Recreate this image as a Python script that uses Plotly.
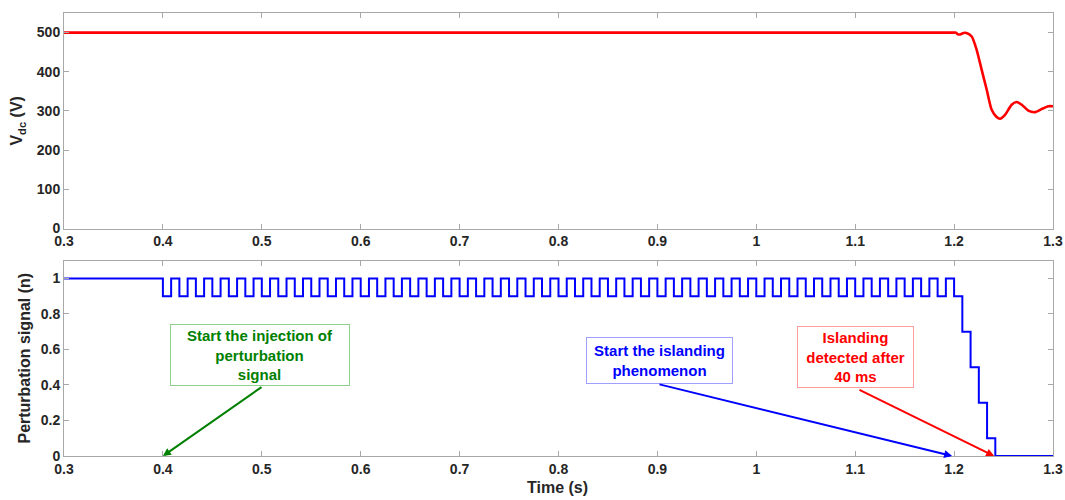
import plotly.graph_objects as go
from plotly.subplots import make_subplots

# DC-link voltage response (s, V)
vdc_time = [0.3, 1.2, 1.2019, 1.2035, 1.2055, 1.2077, 1.2095, 1.2125, 1.2178, 1.2228,
            1.2279, 1.2330, 1.2380, 1.2430, 1.2464, 1.2515, 1.2582, 1.2633, 1.2684,
            1.2750, 1.2818, 1.2886, 1.2953, 1.3]
vdc_value = [500, 500, 500, 496, 495, 497, 499, 499, 490, 456,
             405, 354, 303, 284.5, 280, 290, 316, 323, 316,
             301, 297, 305, 312, 312]

# Perturbation signal: constant before injection, 60 Hz square wave between
# 0.9 and 1.0, then stepped down to zero once islanding is detected
pert_initial = 1.0
pert_start = 0.4
pert_half_period = 1.0 / 120.0
pert_levels = [0.9, 1.0] * 48 + [0.9, 0.7, 0.5, 0.3, 0.1, 0.0]
t_end = 1.3

x_ticks = [0.3, 0.4, 0.5, 0.6, 0.7, 0.8, 0.9, 1.0, 1.1, 1.2, 1.3]
x_tick_text = ["0.3", "0.4", "0.5", "0.6", "0.7", "0.8", "0.9", "1", "1.1", "1.2", "1.3"]
vdc_ticks = [0, 100, 200, 300, 400, 500]
pert_ticks = [0, 0.2, 0.4, 0.6, 0.8, 1.0]
pert_tick_text = ["0", "0.2", "0.4", "0.6", "0.8", "1"]

# step-trace coordinates for the perturbation signal
pert_t = [0.3]
pert_v = [pert_initial]
for k, lvl in enumerate(pert_levels):
    pert_t.append(pert_start + k * pert_half_period)
    pert_v.append(lvl)
pert_t.append(t_end)
pert_v.append(pert_levels[-1])

FONT = "Liberation Sans, Arial, Helvetica, sans-serif"
AX_COL = "#a8a8a8"
TXT_COL = "#262626"

fig = make_subplots(rows=2, cols=1, shared_xaxes=False, vertical_spacing=0.0)

fig.add_trace(go.Scatter(x=vdc_time, y=vdc_value, mode="lines",
                         line=dict(color="#ff0000", width=2.6, shape="spline", smoothing=0.7),
                         showlegend=False), row=1, col=1)
fig.add_trace(go.Scatter(x=pert_t, y=pert_v, mode="lines",
                         line=dict(color="#0000ff", width=2, shape="hv"),
                         showlegend=False), row=2, col=1)

axis_common = dict(showline=True, linecolor=AX_COL, linewidth=1, mirror="allticks",
                   ticks="inside", ticklen=5, tickcolor=AX_COL, showgrid=False,
                   zeroline=False, automargin=False,
                   tickfont=dict(family=FONT, size=14, color=TXT_COL, weight="bold"))

fig.update_xaxes(range=[0.3, 1.3], tickvals=x_ticks, ticktext=x_tick_text, **axis_common)
fig.update_yaxes(**axis_common)
fig.update_yaxes(range=[0, 550], tickvals=vdc_ticks, row=1, col=1)
fig.update_yaxes(range=[0, 1.1], tickvals=pert_ticks, ticktext=pert_tick_text, row=2, col=1)

fig.update_layout(
    width=1065, height=500,
    margin=dict(l=64, r=12, t=13, b=44),
    paper_bgcolor="white", plot_bgcolor="white",
    font=dict(family=FONT, color=TXT_COL),
    xaxis=dict(domain=[0, 1]), xaxis2=dict(domain=[0, 1]),
    yaxis=dict(domain=[0.5135, 1.0]), yaxis2=dict(domain=[0.0, 0.4409]),
)

annotations = [
    dict(text="<b>V<sub>dc</sub> (V)</b>", xref="paper", yref="paper", x=-0.047, y=0.756,
         textangle=-90, showarrow=False, font=dict(size=16, color=TXT_COL),
         xanchor="center", yanchor="middle"),
    dict(text="<b>Perturbation signal (n)</b>", xref="paper", yref="paper", x=-0.040, y=0.221,
         textangle=-90, showarrow=False, font=dict(size=16, color=TXT_COL),
         xanchor="center", yanchor="middle"),
    dict(text="<b>Time (s)</b>", xref="paper", yref="paper", x=0.4985, y=-0.072,
         showarrow=False, font=dict(size=16, color=TXT_COL),
         xanchor="center", yanchor="middle"),
]

# text boxes with their arrows on the lower axes
boxes = [
    dict(text="<b>Start the injection of<br>perturbation<br>signal</b>", x=0.4982, y=0.569,
         w=178, h=60, color="#008000", border="#8fd08f",
         tail=(0.5012, 0.394), head=(0.4, 0.0)),
    dict(text="<b>Start the islanding<br>phenomenon</b>", x=0.9021, y=0.538,
         w=145, h=45, color="#0000ff", border="#9f9fff",
         tail=(0.9006, 0.4056), head=(1.198, 0.0)),
    dict(text="<b>Islanding<br>detected after<br>40 ms</b>", x=1.1003, y=0.558,
         w=115, h=60, color="#ff0000", border="#ff9f9f",
         tail=(1.1028, 0.377), head=(1.2405, 0.0)),
]
for b in boxes:
    annotations.append(dict(
        text=b["text"], xref="x2", yref="y2", x=b["x"], y=b["y"], showarrow=False,
        font=dict(size=15, color=b["color"]), align="center",
        bordercolor=b["border"], borderwidth=1, borderpad=0, bgcolor="white",
        width=b["w"], height=b["h"], xanchor="center", yanchor="middle"))
    annotations.append(dict(
        text="", xref="x2", yref="y2", axref="x2", ayref="y2",
        x=b["head"][0], y=b["head"][1], ax=b["tail"][0], ay=b["tail"][1],
        showarrow=True, arrowhead=2, arrowsize=0.8, arrowwidth=2,
        arrowcolor=b["color"], standoff=0, startstandoff=0))

fig.update_layout(annotations=annotations)

fig.write_html("out.html")
